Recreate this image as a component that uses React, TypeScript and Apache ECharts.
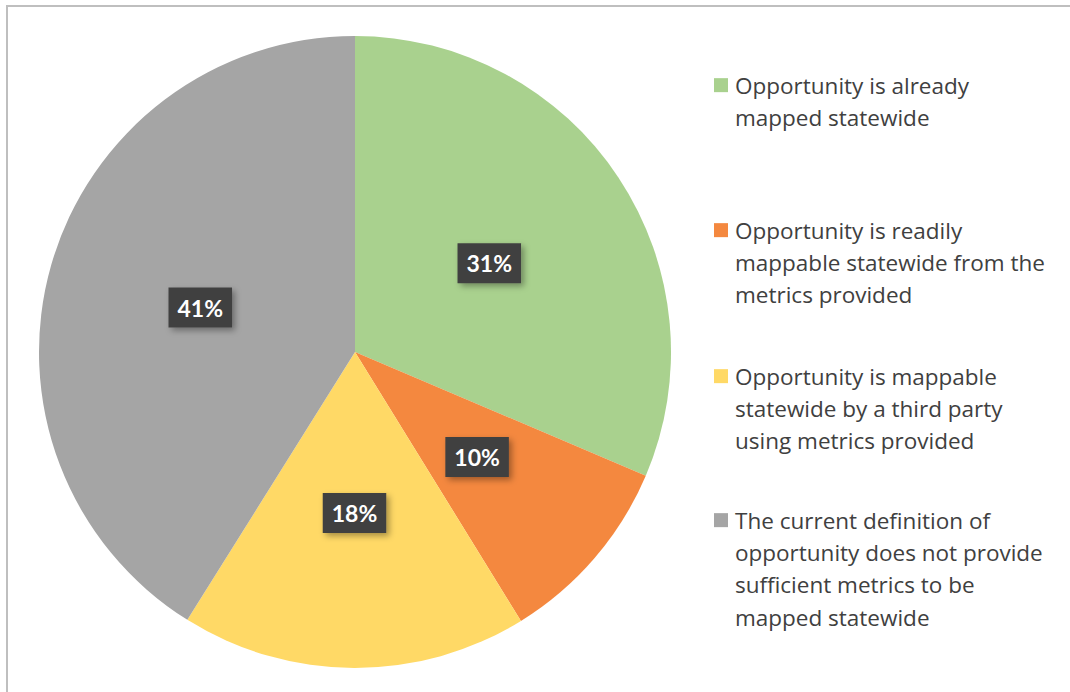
import React, { useEffect, useRef } from "react";
import * as echarts from "echarts";

const categories = [
  "Opportunity is already mapped statewide",
  "Opportunity is readily mappable statewide from the metrics provided",
  "Opportunity is mappable statewide by a third party using metrics provided",
  "The current definition of opportunity does not provide sufficient metrics to be mapped statewide",
];
const values = [31.4, 9.8, 17.7, 41.1];
const legendLines = [
  ["Opportunity is already", "mapped statewide"],
  ["Opportunity is readily", "mappable statewide from the", "metrics provided"],
  ["Opportunity is mappable", "statewide by a third party", "using metrics provided"],
  ["The current definition of", "opportunity does not provide", "sufficient metrics to be", "mapped statewide"],
];
const colors = ["#A9D18E", "#F4883F", "#FFD966", "#A5A5A5"];
const legendTops = [69, 214, 360, 504];

export default function App() {
  const ref = useRef<HTMLDivElement>(null);
  useEffect(() => {
    if (!ref.current) return;
    const chart = echarts.init(ref.current, null, { renderer: "svg" });
    const font = "Open Sans";
    chart.setOption({
      animation: false,
      backgroundColor: "#ffffff",
      graphic: [
        {
          type: "rect",
          shape: { x: 7, y: 6, width: 1090, height: 710 },
          style: { fill: "none", stroke: "#BFBFBF", lineWidth: 2 },
          silent: true,
        },
      ],
      legend: categories.map((name, i) => ({
        data: [name],
        left: 708,
        top: legendTops[i],
        orient: "vertical",
        icon: "none",
        itemWidth: 1,
        itemHeight: 14,
        padding: 0,
        formatter: (n: string) => {
          const idx = categories.indexOf(n);
          return legendLines[idx]
            .map((l, j) => (j === 0 ? `{sq|}{g|}{t|${l}}` : `{sp|}{t|${l}}`))
            .join("\n");
        },
        textStyle: {
          fontFamily: font,
          fontSize: 22.5,
          color: "#404040",
          lineHeight: 32.3,
          rich: {
            sq: { width: 14, height: 14, backgroundColor: colors[i] },
            g: { width: 7 },
            sp: { width: 21 },
            t: { fontFamily: font, fontSize: 22.5, color: "#404040", lineHeight: 32.3 },
          },
        },
      })),
      series: [
        {
          type: "pie",
          center: [355, 352],
          radius: [0, 316],
          startAngle: 90,
          clockwise: true,
          data: categories.map((name, i) => ({
            name,
            value: values[i],
            itemStyle: { color: colors[i] },
          })),
          itemStyle: { borderWidth: 0 },
          emphasis: { disabled: true },
          label: {
            show: true,
            position: "inside",
            formatter: (p: any) => `${Math.round(p.value)}%`,
            fontFamily: "Lato",
            fontSize: 23,
            fontWeight: "bold",
            color: "#ffffff",
            backgroundColor: "#414141",
            padding: [9, 9, 8, 9],
            shadowColor: "rgba(0,0,0,0.35)",
            shadowBlur: 6,
            shadowOffsetX: 3,
            shadowOffsetY: 3,
          },
          labelLine: { show: false },
        },
      ],
    });
    return () => chart.dispose();
  }, []);
  return (
    <div
      ref={ref}
      style={{ position: "fixed", left: 0, top: 0, width: 1070, height: 692 }}
    />
  );
}
